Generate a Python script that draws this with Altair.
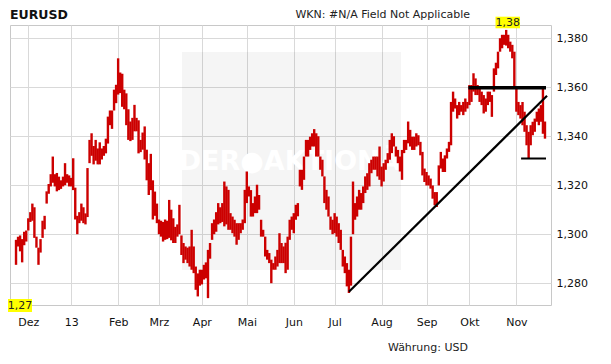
import altair as alt
import pandas as pd

# ---------------- data (EUR/USD daily ranges) ----------------
month_labels = ["Dez", "13", "Feb", "Mrz", "Apr", "Mai", "Jun", "Jul", "Aug", "Sep", "Okt", "Nov"]

low_nov12 = [1.2875, 1.2950, 1.2930, 1.2885, 1.2955, 1.2970]
high_nov12 = [1.2977, 1.2990, 1.2995, 1.2980, 1.3010, 1.3015]

low_dec = [1.3015, 1.3050, 1.3055, 1.2985, 1.2945, 1.2875, 1.2925, 1.2985, 1.3020, 1.3125,
           1.3165, 1.3195, 1.3210, 1.3195, 1.3175, 1.3180, 1.3185, 1.3195, 1.3200, 1.3210, 1.3195]
high_dec = [1.3065, 1.3090, 1.3125, 1.3110, 1.2990, 1.2945, 1.2980, 1.3055, 1.3075, 1.3175,
            1.3205, 1.3245, 1.3317, 1.3245, 1.3250, 1.3235, 1.3220, 1.3235, 1.3290, 1.3245, 1.3240]

low_jan = [1.3195, 1.3180, 1.3060, 1.3000, 1.3045, 1.3055, 1.3045, 1.3040, 1.3070, 1.3290,
           1.3320, 1.3285, 1.3300, 1.3285, 1.3285, 1.3305, 1.3320, 1.3330, 1.3370, 1.3445,
           1.3430, 1.3505, 1.3535]
high_jan = [1.3230, 1.3310, 1.3190, 1.3075, 1.3090, 1.3125, 1.3110, 1.3085, 1.3270, 1.3385,
            1.3412, 1.3360, 1.3385, 1.3350, 1.3375, 1.3350, 1.3360, 1.3390, 1.3480, 1.3505,
            1.3505, 1.3590, 1.3610]

low_feb = [1.3570, 1.3576, 1.3520, 1.3510, 1.3445, 1.3385, 1.3380, 1.3385, 1.3420, 1.3420,
           1.3330, 1.3335, 1.3345, 1.3305, 1.3220, 1.3160, 1.3180, 1.3060, 1.3075, 1.3045]
high_feb = [1.3718, 1.3660, 1.3655, 1.3590, 1.3575, 1.3510, 1.3460, 1.3475, 1.3528, 1.3475,
            1.3465, 1.3385, 1.3415, 1.3440, 1.3345, 1.3290, 1.3328, 1.3220, 1.3174, 1.3125]

low_mar = [1.3000, 1.2990, 1.2970, 1.2977, 1.2980, 1.2985, 1.2975, 1.2964, 1.2964, 1.2990,
           1.3000, 1.2915, 1.2882, 1.2896, 1.2882, 1.2868, 1.2855, 1.2841, 1.2773, 1.2746, 1.2790]
high_mar = [1.3060, 1.3055, 1.3050, 1.3060, 1.3055, 1.3140, 1.3100, 1.3065, 1.3030, 1.3040,
            1.3120, 1.2995, 1.2964, 1.2950, 1.2945, 1.2950, 1.3018, 1.2950, 1.2868, 1.2840, 1.2855]

low_apr = [1.2795, 1.2815, 1.2820, 1.2739, 1.2900, 1.2977, 1.3000, 1.3010, 1.3040, 1.3045,
           1.3050, 1.3032, 1.3040, 1.3018, 1.3018, 1.3004, 1.2990, 1.2957, 1.2977, 1.3004,
           1.3018, 1.3045]
high_apr = [1.2855, 1.2875, 1.2885, 1.2936, 1.2964, 1.3045, 1.3060, 1.3090, 1.3127, 1.3110,
            1.3127, 1.3215, 1.3195, 1.3181, 1.3086, 1.3072, 1.3059, 1.3045, 1.3045, 1.3045,
            1.3060, 1.3181]

low_may = [1.3127, 1.3154, 1.3072, 1.3072, 1.3086, 1.3086, 1.3100, 1.2990, 1.2990, 1.2909,
           1.2896, 1.2882, 1.2800, 1.2855, 1.2855, 1.2868, 1.2882, 1.2882, 1.2882, 1.2841,
           1.2855, 1.2977, 1.3018]
high_may = [1.3256, 1.3195, 1.3180, 1.3127, 1.3154, 1.3202, 1.3160, 1.3059, 1.3018, 1.2990,
            1.2936, 1.2923, 1.2896, 1.2882, 1.2909, 1.2936, 1.3004, 1.2964, 1.2950, 1.2965,
            1.2990, 1.3059, 1.3072]

low_jun = [1.3004, 1.3059, 1.3073, 1.3195, 1.3181, 1.3222, 1.3317, 1.3317, 1.3344, 1.3358,
           1.3358, 1.3317, 1.3317, 1.3263, 1.3236, 1.3127, 1.3100, 1.3072, 1.3018, 1.3000]
high_jun = [1.3086, 1.3120, 1.3127, 1.3263, 1.3263, 1.3317, 1.3385, 1.3385, 1.3398, 1.3412,
            1.3429, 1.3412, 1.3400, 1.3317, 1.3304, 1.3236, 1.3181, 1.3154, 1.3072, 1.3059]

low_jul = [1.3004, 1.2990, 1.2964, 1.2936, 1.2868, 1.2841, 1.2787, 1.2760, 1.2790, 1.3000,
           1.3059, 1.3072, 1.3100, 1.3100, 1.3127, 1.3168, 1.3181, 1.3195, 1.3249, 1.3263,
           1.3263, 1.3236, 1.3222]
high_jul = [1.3086, 1.3072, 1.3045, 1.3018, 1.2936, 1.2909, 1.2882, 1.2855, 1.2990, 1.3215,
            1.3127, 1.3154, 1.3181, 1.3168, 1.3195, 1.3236, 1.3249, 1.3290, 1.3304, 1.3317,
            1.3317, 1.3317, 1.3358]

low_aug = [1.3195, 1.3215, 1.3263, 1.3290, 1.3304, 1.3331, 1.3358, 1.3317, 1.3290, 1.3256,
           1.3222, 1.3331, 1.3344, 1.3371, 1.3358, 1.3344, 1.3344, 1.3358, 1.3363, 1.3322,
           1.3240, 1.3213]
high_aug = [1.3276, 1.3290, 1.3304, 1.3331, 1.3385, 1.3412, 1.3400, 1.3358, 1.3344, 1.3317,
            1.3344, 1.3385, 1.3385, 1.3460, 1.3426, 1.3398, 1.3398, 1.3412, 1.3404, 1.3377,
            1.3336, 1.3268]

low_sep = [1.3199, 1.3199, 1.3186, 1.3145, 1.3118, 1.3111, 1.3199, 1.3268, 1.3254, 1.3254,
           1.3309, 1.3336, 1.3363, 1.3500, 1.3513, 1.3472, 1.3486, 1.3500, 1.3486, 1.3500, 1.3513]
high_sep = [1.3254, 1.3240, 1.3227, 1.3199, 1.3172, 1.3172, 1.3281, 1.3336, 1.3309, 1.3322,
            1.3350, 1.3377, 1.3540, 1.3582, 1.3554, 1.3527, 1.3540, 1.3527, 1.3540, 1.3554, 1.3540]

low_oct = [1.3527, 1.3540, 1.3582, 1.3568, 1.3568, 1.3540, 1.3527, 1.3493, 1.3500, 1.3527,
           1.3540, 1.3479, 1.3582, 1.3650, 1.3677, 1.3745, 1.3759, 1.3773, 1.3770, 1.3759,
           1.3745, 1.3718, 1.3595]
high_oct = [1.3609, 1.3609, 1.3657, 1.3636, 1.3609, 1.3595, 1.3582, 1.3568, 1.3554, 1.3582,
            1.3582, 1.3568, 1.3677, 1.3700, 1.3745, 1.3800, 1.3814, 1.3814, 1.3834, 1.3814,
            1.3786, 1.3773, 1.3745]

low_nov13 = [1.3500, 1.3486, 1.3472, 1.3445, 1.3418, 1.3363, 1.3309, 1.3363, 1.3404, 1.3418,
             1.3459, 1.3445, 1.3459, 1.3410, 1.3390]
high_nov13 = [1.3595, 1.3540, 1.3527, 1.3540, 1.3500, 1.3445, 1.3418, 1.3445, 1.3459, 1.3472,
              1.3500, 1.3513, 1.3527, 1.3595, 1.3460]

# drawn trend lines (trading-day index, price)
trend_diag = {"x": [163], "y": [1.2765], "x2": [260], "y2": [1.3565]}
resistance = {"x": [221.5], "x2": [259.5], "y": [1.3598]}
support = {"x": [247.3], "x2": [259.5], "y": [1.3309]}

y_ticks = [1.28, 1.30, 1.32, 1.34, 1.36, 1.38]

# ---------------- build table ----------------
month_lows = [low_nov12, low_dec, low_jan, low_feb, low_mar, low_apr, low_may,
              low_jun, low_jul, low_aug, low_sep, low_oct, low_nov13]
month_highs = [high_nov12, high_dec, high_jan, high_feb, high_mar, high_apr, high_may,
               high_jun, high_jul, high_aug, high_sep, high_oct, high_nov13]
lows = [v for m in month_lows for v in m]
highs = [v for m in month_highs for v in m]
n = len(lows)
bars = pd.DataFrame({"i": list(range(n)), "lo": lows, "hi": highs})

month_starts = []
acc = 0
for m in month_lows[:-1]:
    acc += len(m)
    month_starts.append(acc)

label_expr = "''"
for idx, lab in reversed(list(zip(month_starts, month_labels))):
    label_expr = f"datum.value == {idx} ? '{lab}' : ({label_expr})"

FONT = "DejaVu Sans"
W, H = 541, 280
x_scale = alt.Scale(domain=[-0.5, n - 0.5], nice=False, zero=False)
y_scale = alt.Scale(domain=[1.2711, 1.3854], nice=False, zero=False)

x_axis = alt.Axis(values=month_starts, labelExpr=label_expr, grid=True, ticks=False, tickSize=0,
                  domain=False, title=None, labelFont=FONT, labelFontSize=11, labelColor="#111111",
                  labelPadding=11, gridColor="#d9d9d9", labelFlush=False, labelOverlap=False)
y_axis = alt.Axis(values=y_ticks, orient="right", grid=True, ticks=False, tickSize=0, domain=False,
                  title=None, labelFont=FONT, labelFontSize=11, labelColor="#111111", labelPadding=5,
                  gridColor="#d9d9d9", labelExpr="replace(format(datum.value, '.3f'), '.', ',')")

base = alt.Chart(bars)

# watermark box and logo text
wm_box = alt.Chart(pd.DataFrame({"a": [0]})).mark_rect(color="#000000", opacity=0.04).encode(
    x=alt.value(172), x2=alt.value(391), y=alt.value(27), y2=alt.value(245))
wm_text = alt.Chart(pd.DataFrame({"t": ["DER\u25CFAKTIONÄR"]})).mark_text(
    font=FONT, fontSize=27, fontWeight="bold", color="#ffffff", align="center", baseline="middle"
).encode(x=alt.value(290), y=alt.value(137), text="t:N")

candles = base.mark_bar(width=2.4, color="#cc0000").encode(
    x=alt.X("i:Q", scale=x_scale, axis=x_axis),
    y=alt.Y("lo:Q", scale=y_scale, axis=y_axis),
    y2="hi:Q",
)

diag = alt.Chart(pd.DataFrame(trend_diag)).mark_rule(color="#000000", strokeWidth=2.2).encode(
    x=alt.X("x:Q", scale=x_scale), y=alt.Y("y:Q", scale=y_scale), x2="x2:Q", y2="y2:Q")
res = alt.Chart(pd.DataFrame(resistance)).mark_rule(color="#000000", strokeWidth=3.5).encode(
    x=alt.X("x:Q", scale=x_scale), x2="x2:Q", y=alt.Y("y:Q", scale=y_scale))
sup = alt.Chart(pd.DataFrame(support)).mark_rule(color="#000000", strokeWidth=2).encode(
    x=alt.X("x:Q", scale=x_scale), x2="x2:Q", y=alt.Y("y:Q", scale=y_scale))

max_txt = f"{max(highs):.2f}".replace(".", ",")
min_txt = f"{min(lows):.2f}".replace(".", ",")

max_box = alt.Chart(pd.DataFrame({"a": [0]})).mark_rect(color="#ffff00").encode(
    x=alt.value(485.5), x2=alt.value(510), y=alt.value(-8.3), y2=alt.value(3.3))
max_lab = alt.Chart(pd.DataFrame({"t": [max_txt]})).mark_text(
    font=FONT, fontSize=11, color="#222222", align="center", baseline="middle"
).encode(x=alt.value(497.8), y=alt.value(-2.3), text="t:N")
min_box = alt.Chart(pd.DataFrame({"a": [0]})).mark_rect(color="#ffff00").encode(
    x=alt.value(-2), x2=alt.value(22), y=alt.value(274), y2=alt.value(287))
min_lab = alt.Chart(pd.DataFrame({"t": [min_txt]})).mark_text(
    font=FONT, fontSize=11, color="#222222", align="center", baseline="middle"
).encode(x=alt.value(10), y=alt.value(280.5), text="t:N")

title = alt.Chart(pd.DataFrame({"t": ["EURUSD"]})).mark_text(
    font=FONT, fontSize=12.5, fontWeight="bold", color="#111111", align="left", baseline="top"
).encode(x=alt.value(0), y=alt.value(-16.5), text="t:N")
wkn = alt.Chart(pd.DataFrame({"t": ["WKN: #N/A Field Not Applicable"]})).mark_text(
    font=FONT, fontSize=11, color="#222222", align="right", baseline="middle"
).encode(x=alt.value(460), y=alt.value(-10.5), text="t:N")
cur = alt.Chart(pd.DataFrame({"t": ["Währung: USD"]})).mark_text(
    font=FONT, fontSize=11, color="#222222", align="right", baseline="middle"
).encode(x=alt.value(458), y=alt.value(323), text="t:N")

chart = alt.layer(
    wm_box, wm_text, candles, diag, res, sup, max_box, max_lab, min_box, min_lab, title, wkn, cur
).properties(
    width=W, height=H,
    padding={"left": 2, "top": 17, "right": 52, "bottom": 50},
    autosize=alt.AutoSizeParams(type="none"),
    background="#ffffff",
).configure_view(stroke="#c8c8c8", strokeWidth=1)

chart.save("out.html", embed_options={"renderer": "svg", "actions": False})
